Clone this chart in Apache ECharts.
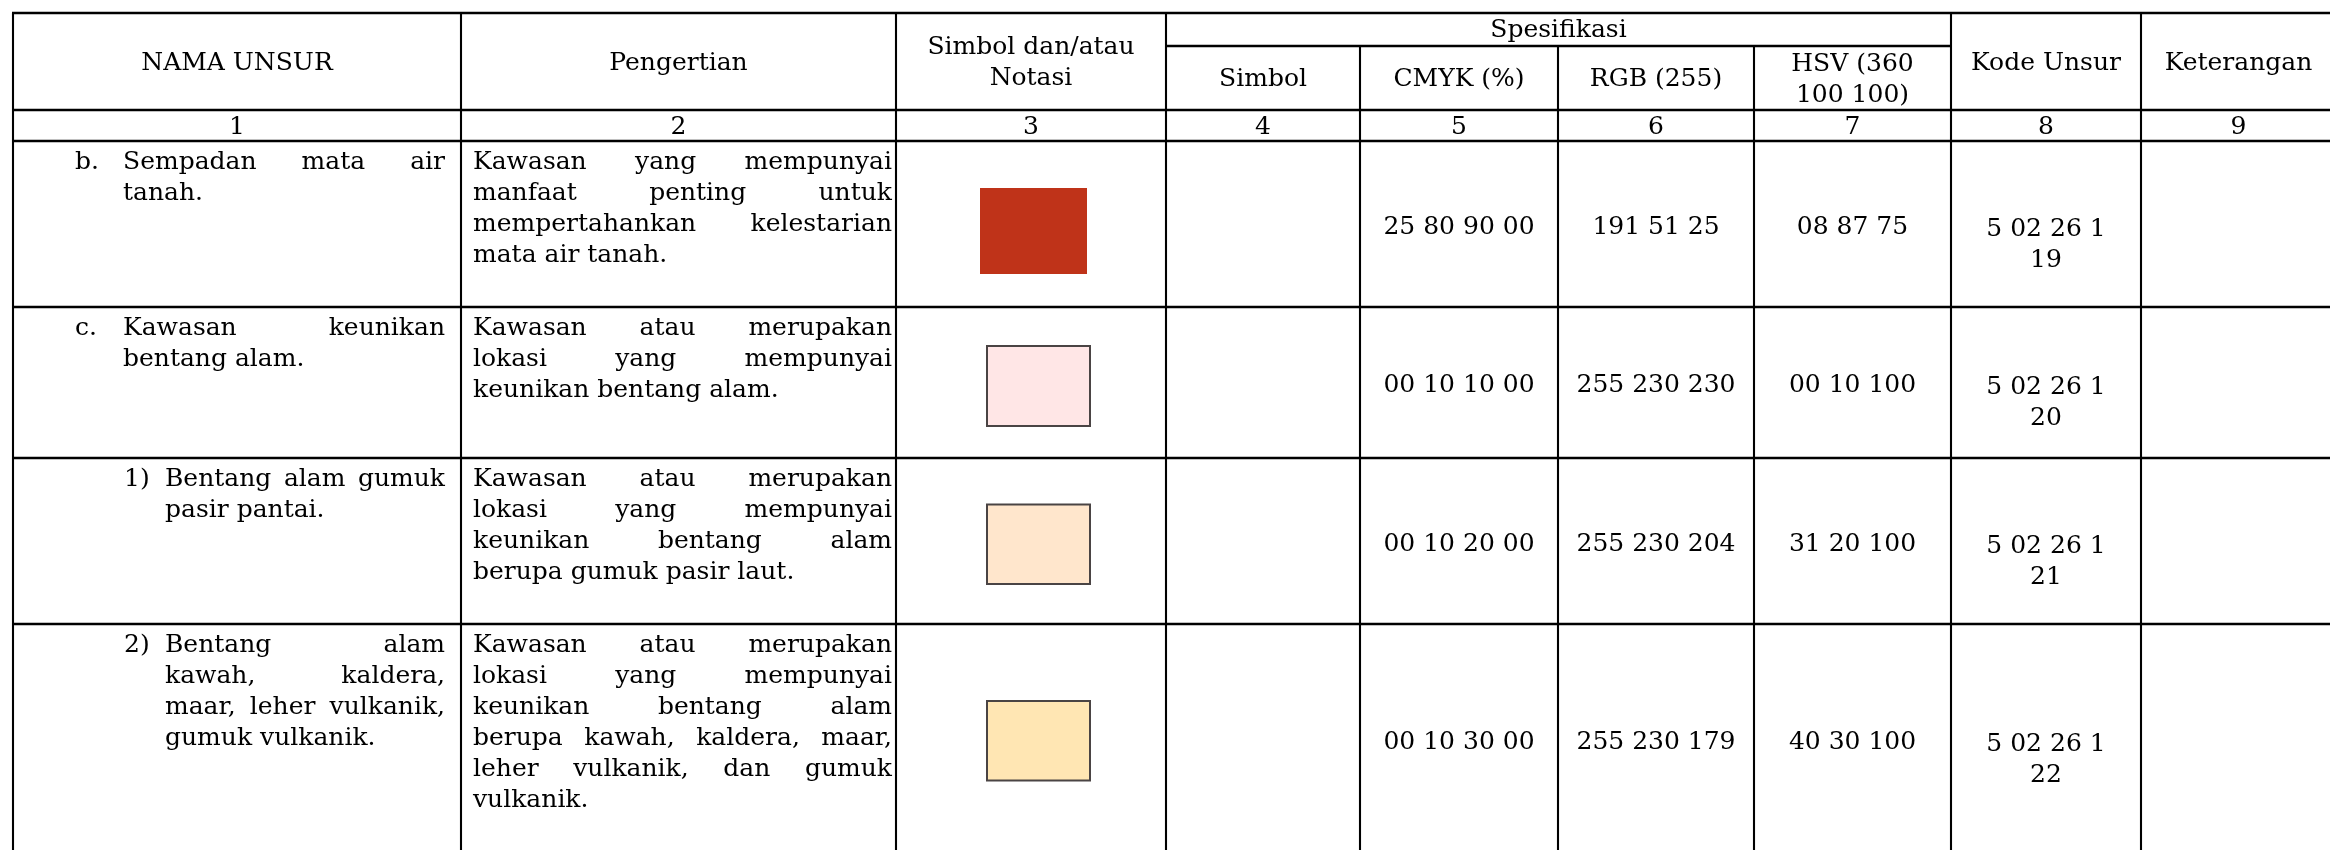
<!DOCTYPE html>
<html>
<head>
<meta charset="utf-8">
<script src="https://cdn.jsdelivr.net/npm/echarts@6/dist/echarts.min.js"></script>
<style>
html, body { margin: 0; padding: 0; background: #ffffff; }
#chart { width: 2330px; height: 850px; }
</style>
</head>
<body>
<div id="chart"></div>
<script>
// ---------------- DATA ----------------
const mainHeaders = ["NAMA UNSUR", "Pengertian", ["Simbol dan/atau", "Notasi"]];
const groupHeader = "Spesifikasi";
const specHeaders = ["Simbol", "CMYK (%)", "RGB (255)", ["HSV (360", "100 100)"]];
const tailHeaders = ["Kode Unsur", "Keterangan"];
const columnNumbers = ["1", "2", "3", "4", "5", "6", "7", "8", "9"];

const itemMarkers = ["b.", "c.", "1)", "2)"];
const itemLevel = [0, 0, 1, 1];
const itemNameLines = [
  ["Sempadan mata air", "tanah."],
  ["Kawasan keunikan", "bentang alam."],
  ["Bentang alam gumuk", "pasir pantai."],
  ["Bentang alam", "kawah, kaldera,", "maar, leher vulkanik,", "gumuk vulkanik."]
];
const definitionLines = [
  ["Kawasan yang mempunyai", "manfaat penting untuk", "mempertahankan kelestarian", "mata air tanah."],
  ["Kawasan atau merupakan", "lokasi yang mempunyai", "keunikan bentang alam."],
  ["Kawasan atau merupakan", "lokasi yang mempunyai", "keunikan bentang alam", "berupa gumuk pasir laut."],
  ["Kawasan atau merupakan", "lokasi yang mempunyai", "keunikan bentang alam", "berupa kawah, kaldera, maar,", "leher vulkanik, dan gumuk", "vulkanik."]
];
const simbolSpec = ["", "", "", ""];
const cmykValues = ["25 80 90 00", "00 10 10 00", "00 10 20 00", "00 10 30 00"];
const rgbValues = ["191 51 25", "255 230 230", "255 230 204", "255 230 179"];
const hsvValues = ["08 87 75", "00 10 100", "31 20 100", "40 30 100"];
const kodeUnsur = ["5 02 26 1 19", "5 02 26 1 20", "5 02 26 1 21", "5 02 26 1 22"];
const keterangan = ["", "", "", ""];

// ---------------- LAYOUT ----------------
const W = 2330, H = 850;
const FONT_SIZE = 25;
const FONT = FONT_SIZE + 'px "DejaVu Serif"';
const LH = 31;
const COL = [13, 461, 896, 1166, 1360, 1558, 1754, 1951, 2141, 2336];
const HEAD_Y = [13, 46, 110, 141];
const ROW_Y = [141, 307, 458, 624, 855];
const MARKER_X = [75, 124];
const TEXT_X = [123, 165];
const NAME_RIGHT = 445;
const DEF_LEFT = 473, DEF_RIGHT = 892;
const FIRST_LINE = 21;
const SYM = [
  { x: 980, w: 107, dy: 47, h: 86, border: false },
  { x: 987, w: 103, dy: 39, h: 80, border: true },
  { x: 987, w: 103, dy: 46.5, h: 79.5, border: true },
  { x: 987, w: 103, dy: 77, h: 79.5, border: true }
];
const H_LINE_W = 2.6, V_LINE_W = 2.1;

const mctx = document.createElement('canvas').getContext('2d');
mctx.font = FONT;
function tw(s) { return mctx.measureText(s).width; }

function txt(s, p, align) {
  return {
    type: 'text', x: p[0], y: p[1], silent: true,
    style: {
      text: s, font: FONT, fill: '#000000',
      align: align, textAlign: align,
      verticalAlign: 'middle', textVerticalAlign: 'middle'
    }
  };
}

function para(lines, left, right, y0, out, P) {
  lines.forEach(function (line, k) {
    const y = y0 + k * LH;
    const words = line.split(' ');
    const last = k === lines.length - 1;
    if (last || words.length === 1) {
      out.push(txt(line, P(left, y), 'left'));
      return;
    }
    const total = words.reduce(function (s, wd) { return s + tw(wd); }, 0);
    const gap = (right - left - total) / (words.length - 1);
    let x = left;
    words.forEach(function (wd, j) {
      if (j === words.length - 1) {
        out.push(txt(wd, P(right, y), 'right'));
      } else {
        out.push(txt(wd, P(x, y), 'left'));
      }
      x += tw(wd) + gap;
    });
  });
}

function centerLines(lines, cx, cy, out, P) {
  const n = lines.length;
  lines.forEach(function (l, k) {
    out.push(txt(l, P(cx, cy + (k - (n - 1) / 2) * LH), 'center'));
  });
}

function renderRow(params, api) {
  const i = api.value(0);
  const P = function (x, y) { return api.coord([x, y]); };
  const top = ROW_Y[i], bot = ROW_Y[i + 1];
  const out = [];
  const lvl = itemLevel[i];
  const y0 = top + FIRST_LINE;
  out.push(txt(itemMarkers[i], P(MARKER_X[lvl], y0), 'left'));
  para(itemNameLines[i], TEXT_X[lvl], NAME_RIGHT, y0, out, P);
  para(definitionLines[i], DEF_LEFT, DEF_RIGHT, y0, out, P);

  // symbol swatch, colour taken from the RGB column
  const s = SYM[i];
  const a = P(s.x, top + s.dy), b = P(s.x + s.w, top + s.dy + s.h);
  out.push({
    type: 'rect', silent: true,
    shape: { x: a[0], y: a[1], width: b[0] - a[0], height: b[1] - a[1] },
    style: {
      fill: 'rgb(' + rgbValues[i].split(' ').join(',') + ')',
      stroke: s.border ? '#4a4444' : null,
      lineWidth: s.border ? 2 : 0
    }
  });

  const midY = (top + bot) / 2 + 3;
  [simbolSpec, cmykValues, rgbValues, hsvValues].forEach(function (arr, k) {
    if (!arr[i]) return;
    const cx = (COL[3 + k] + COL[4 + k]) / 2;
    out.push(txt(arr[i], P(cx, midY), 'center'));
  });
  const kode = kodeUnsur[i];
  const cut = kode.lastIndexOf(' ');
  const kcx = (COL[7] + COL[8]) / 2;
  out.push(txt(kode.slice(0, cut), P(kcx, midY + 2), 'center'));
  out.push(txt(kode.slice(cut + 1), P(kcx, midY + 2 + LH), 'center'));
  if (keterangan[i]) out.push(txt(keterangan[i], P((COL[8] + COL[9]) / 2, midY), 'center'));
  return { type: 'group', children: out };
}

function renderFrame(params, api) {
  const P = function (x, y) { return api.coord([x, y]); };
  const out = [];
  const hl = function (x1, x2, y) {
    const a = P(x1, y), b = P(x2, y);
    out.push({ type: 'line', silent: true, shape: { x1: a[0], y1: a[1], x2: b[0], y2: b[1] },
      style: { stroke: '#000000', lineWidth: H_LINE_W } });
  };
  const vl = function (x, y1, y2) {
    const a = P(x, y1), b = P(x, y2);
    out.push({ type: 'line', silent: true, shape: { x1: a[0], y1: a[1], x2: b[0], y2: b[1] },
      style: { stroke: '#000000', lineWidth: V_LINE_W } });
  };
  const bottom = ROW_Y[ROW_Y.length - 1];
  // horizontal rules
  hl(COL[0] - 1, COL[9], HEAD_Y[0]);
  hl(COL[3], COL[7], HEAD_Y[1]);
  hl(COL[0] - 1, COL[9], HEAD_Y[2]);
  ROW_Y.forEach(function (y) { hl(COL[0] - 1, COL[9], y); });
  // vertical rules
  [0, 1, 2, 3, 7, 8, 9].forEach(function (c) { vl(COL[c], HEAD_Y[0], bottom); });
  [4, 5, 6].forEach(function (c) { vl(COL[c], HEAD_Y[1], bottom); });

  // header texts
  const hMid = (HEAD_Y[0] + HEAD_Y[2]) / 2 + 1.5;
  mainHeaders.forEach(function (h, k) {
    const cx = (COL[k] + COL[k + 1]) / 2;
    centerLines(Array.isArray(h) ? h : [h], cx, hMid, out, P);
  });
  centerLines([groupHeader], (COL[3] + COL[7]) / 2, (HEAD_Y[0] + HEAD_Y[1]) / 2 + 0.5, out, P);
  const sMid = (HEAD_Y[1] + HEAD_Y[2]) / 2 + 1.5;
  specHeaders.forEach(function (h, k) {
    const cx = (COL[3 + k] + COL[4 + k]) / 2;
    const lines = Array.isArray(h) ? h : [h];
    centerLines(lines, cx, lines.length > 1 ? sMid + 0.5 : sMid, out, P);
  });
  tailHeaders.forEach(function (h, k) {
    const cx = (COL[7 + k] + COL[8 + k]) / 2;
    centerLines([h], cx, hMid, out, P);
  });
  const nMid = (HEAD_Y[2] + HEAD_Y[3]) / 2 + 2;
  columnNumbers.forEach(function (n, k) {
    centerLines([n], (COL[k] + COL[k + 1]) / 2, nMid, out, P);
  });
  return { type: 'group', children: out };
}

const chart = echarts.init(document.getElementById('chart'), null, { renderer: 'canvas' });
chart.setOption({
  animation: false,
  backgroundColor: '#ffffff',
  grid: { left: 0, right: 0, top: 0, bottom: 0 },
  xAxis: { type: 'value', min: 0, max: W, show: false },
  yAxis: { type: 'value', min: 0, max: H, inverse: true, show: false },
  tooltip: { show: false },
  series: [
    {
      type: 'custom', name: 'rows', clip: false,
      renderItem: renderRow,
      data: itemMarkers.map(function (m, i) { return [i]; }),
      encode: { x: [], y: [] }
    },
    {
      type: 'custom', name: 'frame', clip: false,
      renderItem: renderFrame,
      data: [[0]],
      encode: { x: [], y: [] }
    }
  ]
});
</script>
</body>
</html>
